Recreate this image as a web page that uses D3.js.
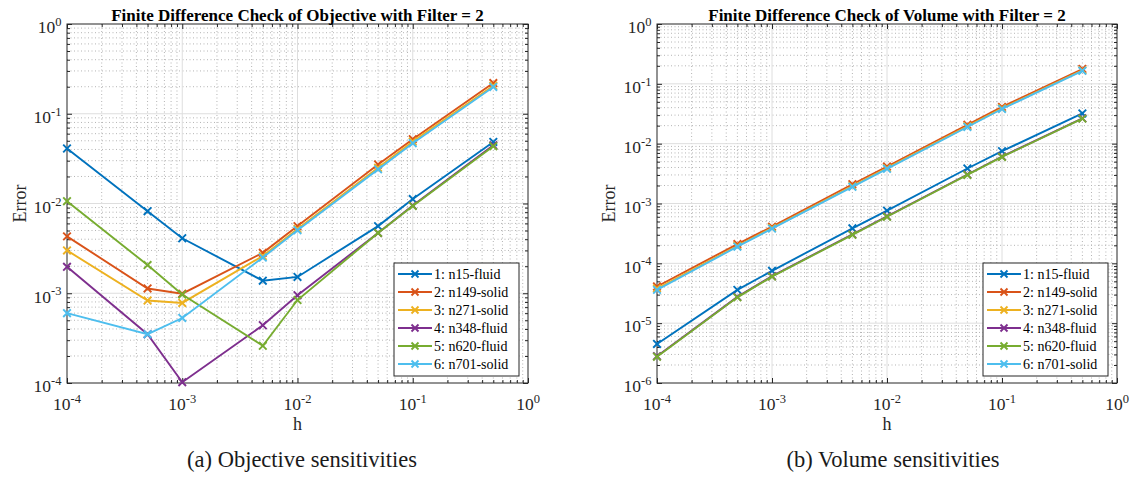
<!DOCTYPE html>
<html>
<head>
<meta charset="utf-8">
<script src="https://cdn.jsdelivr.net/npm/d3@7"></script>
<style>
  html, body { margin: 0; padding: 0; background: #fff; }
  svg { display: block; }
</style>
</head>
<body>
<svg id="fig" width="1135" height="477"></svg>
<script>
// Step sizes used for the finite difference check
const stepSizes = [1e-4, 5e-4, 1e-3, 5e-3, 1e-2, 5e-2, 1e-1, 5e-1];

const seriesLabels = ["1: n15-fluid", "2: n149-solid", "3: n271-solid",
                      "4: n348-fluid", "5: n620-fluid", "6: n701-solid"];
const seriesColors = ["#0072BD", "#D95319", "#EDB120", "#7E2F8E", "#77AC30", "#4DBEEE"];

// Objective sensitivity errors per node
const objN15  = [0.041, 0.0082, 0.0041, 0.00138, 0.00152, 0.0056, 0.0112, 0.0485];
const objN149 = [0.0043, 0.00113, 0.00099, 0.00282, 0.0056, 0.0272, 0.052, 0.22];
const objN271 = [0.003, 0.00083, 0.00078, 0.0026, 0.0052, 0.025, 0.049, 0.205];
const objN348 = [0.00197, 0.00035, 0.000102, 0.00044, 0.00095, 0.0047, 0.0095, 0.0445];
const objN620 = [0.0106, 0.00206, 0.00097, 0.00026, 0.00084, 0.0047, 0.0094, 0.0435];
const objN701 = [0.0006, 0.00035, 0.00053, 0.0025, 0.00504, 0.024, 0.047, 0.199];

// Volume sensitivity errors per node
const volN15  = [4.5e-6, 3.6e-5, 7.5e-5, 3.85e-4, 7.6e-4, 3.85e-3, 7.5e-3, 0.032];
const volN149 = [4.1e-5, 2.1e-4, 4.1e-4, 2.1e-3, 4.15e-3, 0.0207, 0.0412, 0.177];
const volN271 = [3.8e-5, 1.95e-4, 3.9e-4, 1.95e-3, 3.9e-3, 0.0195, 0.039, 0.168];
const volN348 = [2.8e-6, 2.75e-5, 6.1e-5, 3.05e-4, 6.1e-4, 3.05e-3, 6.1e-3, 0.0265];
const volN620 = [2.75e-6, 2.7e-5, 6.0e-5, 3.0e-4, 6.0e-4, 3.0e-3, 6.0e-3, 0.0262];
const volN701 = [3.6e-5, 1.9e-4, 3.8e-4, 1.9e-3, 3.8e-3, 0.019, 0.038, 0.165];

// Axis tick exponents
const xTickExponents = [-4, -3, -2, -1, 0];
const objYTickExponents = [-4, -3, -2, -1, 0];
const volYTickExponents = [-6, -5, -4, -3, -2, -1, 0];

const panelTitles = ["Finite Difference Check of Objective with Filter = 2",
                     "Finite Difference Check of Volume with Filter = 2"];
const panelCaptions = ["(a) Objective sensitivities", "(b) Volume sensitivities"];

const svg = d3.select("#fig");
const AXIS = "#262626";
const SERIF = "'Liberation Serif', 'Times New Roman', serif";
const LW = 1.9;

function minorValues(lo, hi) {
  const out = [];
  for (let e = lo; e < hi; e++) {
    for (let m = 2; m <= 9; m++) out.push(m * Math.pow(10, e));
  }
  return out;
}

function expLabel(sel, e) {
  sel.text(null);
  sel.append("tspan").text("10");
  sel.append("tspan").attr("dy", -7.3).style("font-size", "12.5px").text(e);
}

function crossPath(cx, cy, r) {
  return `M${cx - r},${cy - r}L${cx + r},${cy + r}M${cx - r},${cy + r}L${cx + r},${cy - r}`;
}

function drawPanel(opt) {
  const { left, right, top, bottom } = opt.box;
  const x = d3.scaleLog().domain([1e-4, 1]).range([left, right]);
  const y = d3.scaleLog().domain([Math.pow(10, opt.yExp[0]), 1]).range([bottom, top]);
  const g = svg.append("g");

  const xMinor = minorValues(-4, 0);
  const yMinor = minorValues(opt.yExp[0], 0);
  const xMajor = xTickExponents.map(e => Math.pow(10, e));
  const yMajor = opt.yExp.map(e => Math.pow(10, e));

  // minor grid (dotted)
  const grid = g.append("g");
  grid.selectAll(".gxm").data(xMinor).join("line")
    .attr("x1", d => x(d)).attr("x2", d => x(d))
    .attr("y1", top).attr("y2", bottom)
    .attr("stroke", "#b4b4b4").attr("stroke-width", 1)
    .attr("stroke-dasharray", "1,2.5");
  grid.selectAll(".gym").data(yMinor).join("line")
    .attr("y1", d => y(d)).attr("y2", d => y(d))
    .attr("x1", left).attr("x2", right)
    .attr("stroke", "#b4b4b4").attr("stroke-width", 1)
    .attr("stroke-dasharray", "1,2.5");
  // major grid
  grid.selectAll(".gxM").data(xMajor.slice(1, -1)).join("line")
    .attr("x1", d => x(d)).attr("x2", d => x(d))
    .attr("y1", top).attr("y2", bottom)
    .attr("stroke", "#dedede").attr("stroke-width", 1);
  grid.selectAll(".gyM").data(yMajor.slice(1, -1)).join("line")
    .attr("y1", d => y(d)).attr("y2", d => y(d))
    .attr("x1", left).attr("x2", right)
    .attr("stroke", "#dedede").attr("stroke-width", 1);

  // axes via d3 with inward ticks
  const tickStyle = a => {
    a.select(".domain").remove();
    a.selectAll("line").attr("stroke", AXIS);
    a.selectAll("text").remove();
  };
  const mk = (axisFn, scale, vals, size) => axisFn(scale).tickValues(vals).tickSize(size).tickFormat("");
  g.append("g").attr("transform", `translate(0,${bottom})`)
    .call(mk(d3.axisTop, x, xMajor, 5)).call(tickStyle);
  g.append("g").attr("transform", `translate(0,${bottom})`)
    .call(mk(d3.axisTop, x, xMinor, 3)).call(tickStyle);
  g.append("g").attr("transform", `translate(0,${top})`)
    .call(mk(d3.axisBottom, x, xMajor, 5)).call(tickStyle);
  g.append("g").attr("transform", `translate(0,${top})`)
    .call(mk(d3.axisBottom, x, xMinor, 3)).call(tickStyle);
  g.append("g").attr("transform", `translate(${left},0)`)
    .call(mk(d3.axisRight, y, yMajor, 5)).call(tickStyle);
  g.append("g").attr("transform", `translate(${left},0)`)
    .call(mk(d3.axisRight, y, yMinor, 3)).call(tickStyle);
  g.append("g").attr("transform", `translate(${right},0)`)
    .call(mk(d3.axisLeft, y, yMajor, 5)).call(tickStyle);
  g.append("g").attr("transform", `translate(${right},0)`)
    .call(mk(d3.axisLeft, y, yMinor, 3)).call(tickStyle);

  // box
  g.append("rect").attr("x", left).attr("y", top)
    .attr("width", right - left).attr("height", bottom - top)
    .attr("fill", "none").attr("stroke", AXIS).attr("stroke-width", 1);

  // tick labels
  g.selectAll(".xl").data(xTickExponents).join("text")
    .attr("x", d => x(Math.pow(10, d))).attr("y", bottom + 27)
    .attr("text-anchor", "middle")
    .style("font-family", SERIF).style("font-size", "17.5px").attr("fill", AXIS)
    .each(function (d) { expLabel(d3.select(this), d); });
  g.selectAll(".yl").data(opt.yExp).join("text")
    .attr("x", left - 5.5).attr("y", d => y(Math.pow(10, d)) + 9.3)
    .attr("text-anchor", "end")
    .style("font-family", SERIF).style("font-size", "17.5px").attr("fill", AXIS)
    .each(function (d) { expLabel(d3.select(this), d); });

  // axis titles
  g.append("text").attr("x", (left + right) / 2).attr("y", bottom + 47)
    .attr("text-anchor", "middle").style("font-family", SERIF)
    .style("font-size", "18px").attr("fill", AXIS).text("h");
  g.append("text")
    .attr("transform", `translate(${opt.errorX},${(top + bottom) / 2}) rotate(-90)`)
    .attr("text-anchor", "middle").attr("dominant-baseline", "central")
    .style("font-family", SERIF).style("font-size", "18px").attr("fill", AXIS).text("Error");

  // title
  g.append("text").attr("x", (left + right) / 2).attr("y", top - 3)
    .attr("text-anchor", "middle").style("font-family", SERIF)
    .attr("font-weight", "bold").style("font-size", "17px").attr("fill", "#000")
    .text(opt.title);

  // series
  const line = d3.line().x(d => x(d[0])).y(d => y(d[1]));
  opt.series.forEach((vals, i) => {
    const pts = stepSizes.map((h, k) => [h, vals[k]]);
    const sg = g.append("g");
    sg.append("path").datum(pts).attr("d", line)
      .attr("fill", "none").attr("stroke", seriesColors[i]).attr("stroke-width", LW);
    sg.selectAll("path.mk").data(pts).join("path").attr("class", "mk")
      .attr("d", d => crossPath(x(d[0]), y(d[1]), 3.8))
      .attr("stroke", seriesColors[i]).attr("stroke-width", LW).attr("fill", "none");
  });

  // legend
  const lg = g.append("g");
  const L = opt.legend;
  lg.append("rect").attr("x", L.x).attr("y", L.y).attr("width", L.w).attr("height", L.h)
    .attr("fill", "#fff").attr("stroke", AXIS).attr("stroke-width", 1);
  seriesLabels.forEach((name, i) => {
    const cy = L.y + 11 + i * 18;
    lg.append("line").attr("x1", L.x + 4).attr("x2", L.x + 38)
      .attr("y1", cy).attr("y2", cy).attr("stroke", seriesColors[i]).attr("stroke-width", LW);
    lg.append("path")
      .attr("d", crossPath(L.x + 21, cy, 3.5))
      .attr("stroke", seriesColors[i]).attr("stroke-width", LW);
    lg.append("text").attr("x", L.x + 40).attr("y", cy + 4.5)
      .style("font-family", SERIF).style("font-size", "14px").attr("fill", "#000").text(name);
  });

  // caption
  svg.append("text").attr("x", opt.captionX).attr("y", 467)
    .attr("text-anchor", "middle").style("font-family", SERIF)
    .style("font-size", "22.5px").attr("fill", "#1a1a1a").text(opt.caption);
}

drawPanel({
  box: { left: 67, right: 528, top: 24, bottom: 383 },
  yExp: objYTickExponents,
  series: [objN15, objN149, objN271, objN348, objN620, objN701],
  title: panelTitles[0], caption: panelCaptions[0], captionX: 302,
  errorX: 20, legend: { x: 394, y: 263, w: 125, h: 113 }
});
drawPanel({
  box: { left: 657, right: 1117, top: 24, bottom: 383 },
  yExp: volYTickExponents,
  series: [volN15, volN149, volN271, volN348, volN620, volN701],
  title: panelTitles[1], caption: panelCaptions[1], captionX: 893,
  errorX: 609, legend: { x: 983, y: 263, w: 125, h: 113 }
});
</script>
</body>
</html>
